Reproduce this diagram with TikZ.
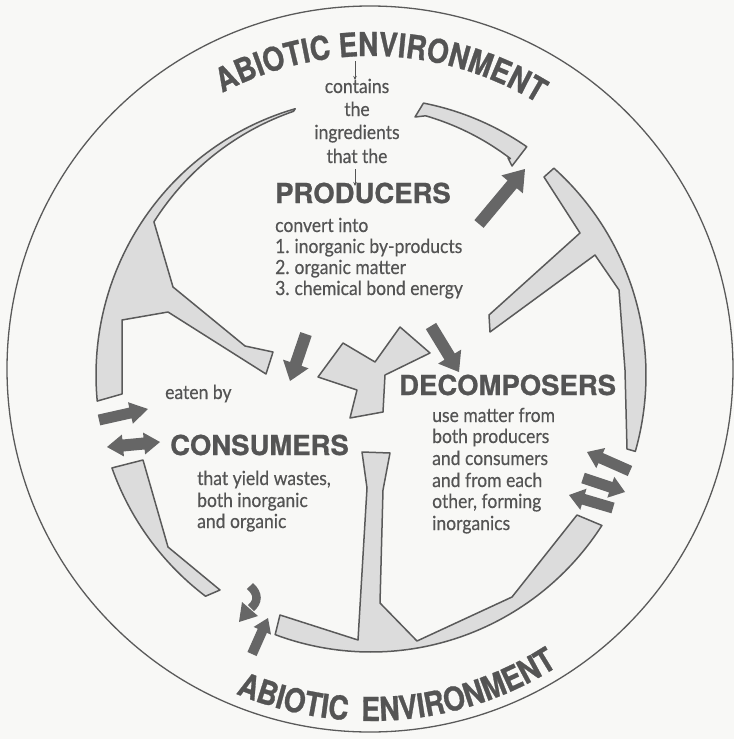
\documentclass[tikz,border=0pt]{standalone}
\usepackage{fontspec}
\setmainfont{Lato}[FakeStretch=0.9, FakeBold=0.4]
\newfontfamily\headfont{TeX Gyre Heros}[FakeBold=0.8]
\newfontfamily\arcfont{TeX Gyre Heros}[FakeStretch=0.85, FakeBold=0.8]
\usetikzlibrary{calc,decorations.text,arrows.meta}

\definecolor{ink}{HTML}{545454}
\definecolor{edge}{HTML}{5A5A5A}
\definecolor{ringfill}{HTML}{DCDCDC}
\definecolor{arrowfill}{HTML}{666666}
\definecolor{paper}{HTML}{F8F8F6}

% block arrow: tail, tip, shaft width, head width, head length
\newcommand\blockarrow[5]{%
  \fill[arrowfill] let \p1=($(#2)-(#1)$), \n1={atan2(\y1,\x1)}, \n2={veclen(\x1,\y1)} in
    ($(#1)+(\n1+90:#3/2)$) -- ($(#1)+(\n1:\n2-#5)+(\n1+90:#3/2)$)
    -- ($(#1)+(\n1:\n2-#5)+(\n1+90:#4/2)$) -- (#2)
    -- ($(#1)+(\n1:\n2-#5)+(\n1-90:#4/2)$) -- ($(#1)+(\n1:\n2-#5)+(\n1-90:#3/2)$)
    -- ($(#1)+(\n1-90:#3/2)$) -- cycle;}
% two-headed block arrow: end, end, shaft width, head width, head length
\newcommand\twowayarrow[5]{%
  \fill[arrowfill] let \p1=($(#2)-(#1)$), \n1={atan2(\y1,\x1)}, \n2={veclen(\x1,\y1)} in
    (#1) -- ($(#1)+(\n1:#5)+(\n1+90:#4/2)$) -- ($(#1)+(\n1:#5)+(\n1+90:#3/2)$)
    -- ($(#1)+(\n1:\n2-#5)+(\n1+90:#3/2)$) -- ($(#1)+(\n1:\n2-#5)+(\n1+90:#4/2)$)
    -- (#2) -- ($(#1)+(\n1:\n2-#5)+(\n1-90:#4/2)$) -- ($(#1)+(\n1:\n2-#5)+(\n1-90:#3/2)$)
    -- ($(#1)+(\n1:#5)+(\n1-90:#3/2)$) -- ($(#1)+(\n1:#5)+(\n1-90:#4/2)$) -- cycle;}

\tikzset{
  ring/.style={fill=ringfill, draw=edge, line width=1.5pt, line join=round},
  body/.style={font=\fontsize{19.5}{21}\selectfont, text=ink, inner sep=0pt},
  head/.style={font=\headfont\bfseries\fontsize{27.5}{30}\selectfont, text=ink, inner sep=0pt},
  thinarrow/.style={draw=ink, line width=0.7pt, -{Stealth[length=4pt,width=3.5pt]}},
  arctext/.style={decorate, decoration={text along path, text align=center,
    text={|\arcfont\bfseries\fontsize{33}{33}\selectfont\color{ink}|#1}}},
}

\begin{document}
\begin{tikzpicture}[x=1pt,y=-1pt]
\useasboundingbox (0,0) rectangle (734,739);
\fill[paper] (0,0) rectangle (734,739);

% outer boundary
\draw[edge, line width=1.3pt] (370,369) circle[radius=363pt];

% ring segments
\filldraw[ring] plot[domain=79:55.5,samples=40] ({371+275*cos(\x)},{375-277*sin(\x)})
  -- (512,166) -- (508,158)
  -- plot[domain=57:78,samples=40] ({371+(256+(\x-57)/3)*cos(\x)},{375-(258+(\x-57)/3)*sin(\x)})
  -- (415,117) -- cycle;

\filldraw[ring] plot[domain=48.3:-16,samples=60] ({371+275*cos(\x)},{375-277*sin(\x)})
  -- (627,449) -- (625,370) -- (619,290) -- (595,255) -- (490,332) -- (489,315)
  -- (580,233) -- (544,177) -- cycle;

\filldraw[ring] plot[domain=-32.9:-110.4,samples=70] ({371+275*cos(\x)},{375-277*sin(\x)})
  -- (280,615) -- (358,640) -- (367,488) -- (362,452) -- (390,453) -- (383,490)
  -- (380,603) -- (417,641) -- (512,597) -- (577,515) -- cycle;

\filldraw[ring] plot[domain=-160.4:-127,samples=30] ({371+275*cos(\x)},{375-277*sin(\x)})
  -- (220,590) -- (168,547) -- (143,460) -- cycle;

\filldraw[ring] plot[domain=106:185.4,samples=70] ({371+275*cos(\x)},{375-277*sin(\x)})
  -- (122,394) -- (122,320) -- (168,312) -- (266,374) -- (273,352) -- (245,346) -- (173,287)
  -- plot[domain=145:106.5,samples=40] ({371+(273-(\x-106.5)*0.2078)*cos(\x)},{375-(275-(\x-106.5)*0.2078)*sin(\x)})
  -- cycle;

% central three-lobed piece
\filldraw[ring] (318,377) -- (343,343) -- (375,362) -- (400,327) -- (430,353) -- (385,375)
  -- (383,412) -- (350,418) -- (357,390) -- cycle;

% block arrows
\coordinate (upT) at (479,224);   \coordinate (upH) at (525,169);
\coordinate (pcT) at (306,334);   \coordinate (pcH) at (290,381);
\coordinate (pdT) at (431,326);   \coordinate (pdH) at (459,372);
\coordinate (lfT) at (99,420);    \coordinate (lfH) at (148,409);
\coordinate (lwA) at (107,447);   \coordinate (lwB) at (160,442);
\coordinate (r1T) at (630,471);   \coordinate (r1H) at (587,452);
\coordinate (r2T) at (583,478);   \coordinate (r2H) at (625,492);
\coordinate (r3T) at (613,508);   \coordinate (r3H) at (569,495);
\coordinate (btT) at (252,654);   \coordinate (btH) at (268,618);

\blockarrow{upT}{upH}{12pt}{28pt}{20pt}
\blockarrow{pcT}{pcH}{12pt}{27pt}{18pt}
\blockarrow{pdT}{pdH}{12pt}{27pt}{18pt}
\blockarrow{lfT}{lfH}{11pt}{22pt}{18pt}
\twowayarrow{lwA}{lwB}{12pt}{22pt}{16pt}
\blockarrow{r1T}{r1H}{11pt}{22pt}{15pt}
\blockarrow{r2T}{r2H}{11pt}{22pt}{15pt}
\blockarrow{r3T}{r3H}{11pt}{22pt}{15pt}
\blockarrow{btT}{btH}{10pt}{19pt}{14pt}
% small hooked arrow
\draw[arrowfill, line width=8.5pt] (250,586) .. controls (259,594) and (258,602) .. (251,608);
\fill[arrowfill] (242,602) -- (258,616) -- (239,622) -- cycle;

% curved titles
\path[arctext={ABIOTIC}] plot[domain=132.5:82.5,samples=80] ({371+318*cos(\x)},{374-318*sin(\x)});
\path[arctext={ENVIRONMENT}] plot[domain=102:52,samples=80] ({371+318*cos(\x)},{374-318*sin(\x)});
\path[arctext={ABIOTIC}] plot[domain=-128.4:-78.4,samples=80] ({371+347*cos(\x)},{374-347*sin(\x)});
\path[arctext={ENVIRONMENT}] plot[domain=-99.5:-49.5,samples=80] ({371+347*cos(\x)},{374-347*sin(\x)});

% producers text
\node[body, anchor=base] (t1) at (357,93) {contains};
\node[body, anchor=base] (t2) at (357,116) {the};
\node[body, anchor=base] (t3) at (357,139) {ingredients};
\node[body, anchor=base] (t4) at (357,163) {that the};
\coordinate (envE) at (355,61);
\coordinate (t1top) at (355,80);
\coordinate (t4bot) at (355,169);
\coordinate (prodtop) at (355,186);
\draw[thinarrow] (envE) -- (t1top);
\draw[thinarrow] (t4bot) -- (prodtop);

\node[head, anchor=base west] (prod) at (275,203) {PRODUCERS};
\node[body, anchor=base west] at (275,232) {convert into};
\node[body, anchor=base west] at (275,253) {1.\hspace{5pt}inorganic by-products};
\node[body, anchor=base west] at (275,274) {2.\hspace{5pt}organic matter};
\node[body, anchor=base west] at (275,295) {3.\hspace{5pt}chemical bond energy};

% consumers text
\node[body, anchor=base west] (eat) at (165,399) {eaten by};
\node[head, anchor=base west] (cons) at (170,455) {CONSUMERS};
\node[body, anchor=base west] at (197,485) {that yield wastes,};
\node[body, anchor=base west] at (197,507) {both inorganic};
\node[body, anchor=base west] at (197,528) {and organic};

% decomposers text
\node[head, anchor=base west] (dec) at (399,395) {DECOMPOSERS};
\node[body, anchor=base west] at (432,422) {use matter from};
\node[body, anchor=base west] at (432,443) {both producers};
\node[body, anchor=base west] at (432,465) {and consumers};
\node[body, anchor=base west] at (432,487) {and from each};
\node[body, anchor=base west] at (432,508) {other, forming};
\node[body, anchor=base west] at (432,530) {inorganics};
\end{tikzpicture}
\end{document}
